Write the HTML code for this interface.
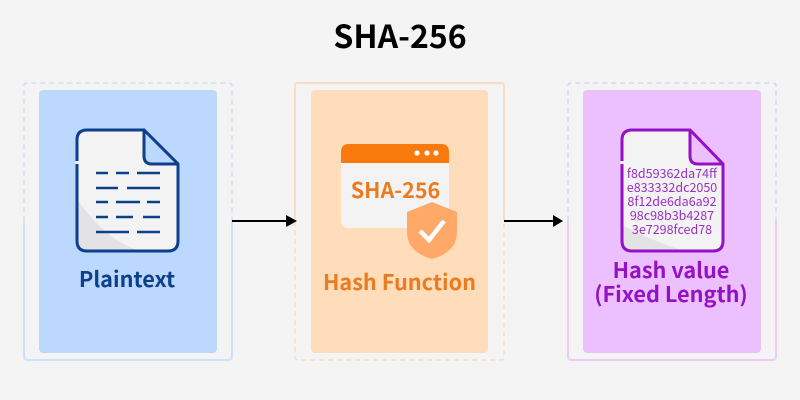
<!DOCTYPE html>
<html><head><meta charset="utf-8"><style>
html,body{margin:0;padding:0;background:#f4f4f4;width:800px;height:400px;overflow:hidden}
svg{display:block}
text{font-family:"Liberation Sans","Noto Sans CJK SC",sans-serif}
.n{font-family:"Noto Sans CJK SC","Liberation Sans",sans-serif;text-anchor:middle}
.b{font-weight:700}
</style></head><body>
<svg width="800" height="400" viewBox="0 0 800 400" xmlns="http://www.w3.org/2000/svg">
<rect width="800" height="400" fill="#f4f4f4"/>
<text class="n b" x="400" y="48" font-size="32" fill="#000">SHA-256</text>

<!-- left -->
<path d="M24 221V86q0-3 3-3H229q3 0 3 3V221" fill="none" stroke="#d3dcec" stroke-width="1.5" stroke-dasharray="5 4"/>
<path d="M24 221V357q0 3 3 3H229q3 0 3-3V221" fill="none" stroke="#cfe0fa" stroke-width="2"/>
<rect x="39" y="90" width="178" height="263" rx="4" fill="#bdd8ff"/>
<path d="M144 130H87q-10 0-10 10V241q0 10 10 10H168q10 0 10-10V164L144 130Z" fill="#f3f3f3"/>
<path d="M77 199Q105 240 140 251H87q-10 0-10-10Z" fill="#e3e3e5"/>
<path d="M144 130H87q-10 0-10 10V241q0 10 10 10H168q10 0 10-10V164L144 130Z" fill="none" stroke="#0d408a" stroke-width="3" stroke-linejoin="round"/>
<path d="M144 130V156q0 8 8 8H178Z" fill="#bdd8ff" stroke="#0d408a" stroke-width="3" stroke-linejoin="round"/>
<path d="M77 161V164" stroke="#f3f3f3" stroke-width="3"/>
<g stroke="#0d408a" stroke-width="2.5" fill="none">
<path d="M96 173H108M116 173H129M137 173H160"/>
<path d="M96 188H118M127 188H160"/>
<path d="M96 202H108M116 202H140M147 202H160"/>
<path d="M96 217H108M116 217H133M143 217H160"/>
<path d="M96 232H129M137 232H160"/>
</g>
<text class="n b" x="127" y="287" font-size="21.7" fill="#0d408a">Plaintext</text>

<!-- middle -->
<path d="M295 221V86q0-3 3-3H501q3 0 3 3V221" fill="none" stroke="#f8ddc4" stroke-width="2"/>
<path d="M295 221V357q0 3 3 3H501q3 0 3-3V221" fill="none" stroke="#f6dcc5" stroke-width="1.5" stroke-dasharray="5 4"/>
<rect x="311" y="90" width="177" height="263" rx="4" fill="#ffdcba"/>
<path d="M341 163V152q0-8 8-8H441q8 0 8 8V163Z" fill="#f97a0c"/>
<path d="M341 163H449V228H349q-8 0-8-8Z" fill="#f3f3f3"/>
<circle cx="417" cy="153" r="2.6" fill="#fff"/><circle cx="427" cy="153" r="2.6" fill="#fff"/><circle cx="436" cy="153" r="2.6" fill="#fff"/>
<text class="n b" x="395.5" y="198" font-size="21.5" fill="#ea7c1f">SHA-256</text>
<path d="M432 202L457 212V232Q457 252 432 259Q407 252 407 232V212Z" fill="#ffa968"/>
<path d="M420 231L429 240L444 221" fill="none" stroke="#fff" stroke-width="4.5"/>
<text class="n b" x="399.5" y="290" font-size="21.7" fill="#ea7c1f">Hash Function</text>

<!-- right -->
<path d="M568 221V86q0-3 3-3H773q3 0 3 3V221" fill="none" stroke="#dcd2f0" stroke-width="1.5" stroke-dasharray="5 4"/>
<path d="M568 221V357q0 3 3 3H773q3 0 3-3V221" fill="none" stroke="#eccbfa" stroke-width="2"/>
<rect x="583" y="90" width="178" height="263" rx="4" fill="#ecc0ff"/>
<path d="M690 130H632q-10 0-10 10V241q0 10 10 10H713q10 0 10-10V164L690 130Z" fill="#f3f3f3"/>
<path d="M622 225Q650 240 684 251H632q-10 0-10-10Z" fill="#e3e3e5"/>
<path d="M690 130H632q-10 0-10 10V241q0 10 10 10H713q10 0 10-10V164L690 130Z" fill="none" stroke="#9412c4" stroke-width="3" stroke-linejoin="round"/>
<path d="M690 130V156q0 8 8 8H723Z" fill="#ecc0ff" stroke="#9412c4" stroke-width="3" stroke-linejoin="round"/>
<path d="M622 161V164" stroke="#f3f3f3" stroke-width="3"/>
<g class="n" font-size="12.5" fill="#9a2fc4">
<text class="n" x="672" y="178">f8d59362da74ff</text>
<text class="n" x="672" y="192">e833332dc2050</text>
<text class="n" x="672" y="206">8f12de6da6a92</text>
<text class="n" x="672" y="220">98c98b3b4287</text>
<text class="n" x="672" y="234">3e7298fced78</text>
</g>
<text class="n b" x="671" y="278" font-size="21.7" fill="#9412c4">Hash value</text>
<text class="n b" x="671" y="302" font-size="21.7" fill="#9412c4">(Fixed Length)</text>

<!-- arrows -->
<path d="M232 221H288" stroke="#000" stroke-width="2"/>
<path d="M286 215L297 221L286 227Z" fill="#000"/>
<path d="M504 221H556" stroke="#000" stroke-width="2"/>
<path d="M553 215L563 221L553 227Z" fill="#000"/>
</svg>
</body></html>
